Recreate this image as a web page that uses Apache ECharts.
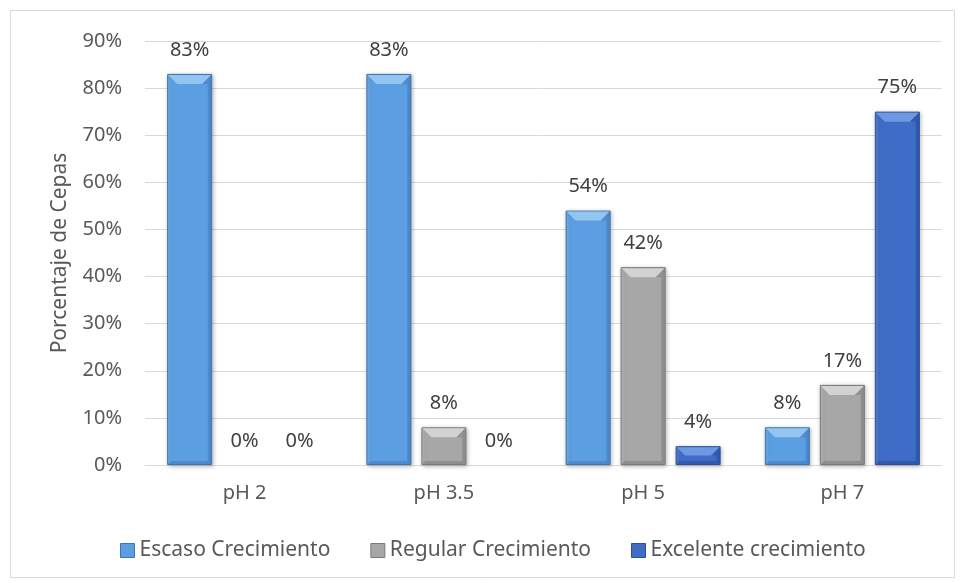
<!DOCTYPE html>
<html>
<head>
<meta charset="utf-8">
<script src="https://cdn.jsdelivr.net/npm/echarts@6/dist/echarts.min.js"></script>
<style>html,body{margin:0;padding:0;background:#fff}#c{width:960px;height:583px}</style>
</head>
<body>
<div id="c"></div>
<script>
const categories = ['pH 2', 'pH 3.5', 'pH 5', 'pH 7'];
const escaso = [83, 83, 54, 8];
const regular = [0, 8, 42, 17];
const excelente = [0, 0, 4, 75];
const yTicks = [0, 10, 20, 30, 40, 50, 60, 70, 80, 90];
const seriesNames = ['Escaso Crecimiento', 'Regular Crecimiento', 'Excelente crecimiento'];

const FONT = 'Noto Sans';
const BAR_W = 45;
const BAR_OFFSETS = [-55, 0, 55];
function grad(light, mid, dark) {
  return new echarts.graphic.LinearGradient(0, 0, 1, 0, [
    {offset: 0, color: light}, {offset: 0.1, color: mid}, {offset: 0.88, color: mid}, {offset: 1, color: dark}
  ]);
}
const styles = [
  {color: grad('#78b2ea', '#5b9fe2', '#4482c4'), border: '#3f74ad', legend: '#5b9fe2', hi: '#93c5f2', side: '#4b86c7'},
  {color: grad('#bdbdbd', '#a7a7a7', '#8c8c8c'), border: '#7a7a7a', legend: '#a7a7a7', hi: '#d2d2d2', side: '#8a8a8a'},
  {color: grad('#5a86d6', '#3f6cc6', '#3059ab'), border: '#2b4f98', legend: '#3f6cc6', hi: '#6f98e2', side: '#2f56a6'}
];
const dataSets = [escaso, regular, excelente];

const barSeries = dataSets.map((d, i) => ({
  name: seriesNames[i], type: 'bar',
  data: d.map(v => v === 0
    ? {value: v, itemStyle: {color: 'transparent', borderColor: 'transparent', borderWidth: 0, shadowBlur: 0, shadowColor: 'transparent'}}
    : v),
  barWidth: BAR_W, barGap: '22.2%',
  itemStyle: {color: styles[i].color, borderColor: styles[i].border, borderWidth: 1,
    shadowColor: 'rgba(0,0,0,0.28)', shadowBlur: 4, shadowOffsetX: 1, shadowOffsetY: 1},
  label: {show: true, position: 'top', distance: 14, formatter: p => p.value + '%',
    fontFamily: FONT, fontSize: 20, color: '#404040'}
}));

const bevelSeries = dataSets.map((d, i) => ({
  name: seriesNames[i], type: 'custom', silent: true, z: 5,
  data: d.map((v, k) => [k, v]),
  renderItem: function (params, api) {
    const v = api.value(1);
    if (!(v > 0)) return null;
    const top = api.coord([api.value(0), v]);
    const base = api.coord([api.value(0), 0]);
    const cx = top[0] + BAR_OFFSETS[i];
    const x0 = cx - BAR_W / 2 + 1, x1 = cx + BAR_W / 2 - 1;
    const y0 = top[1] + 1, y1 = base[1] - 1;
    const h = y1 - y0;
    const b = Math.min(9, h / 2);
    const s = Math.min(3, h / 4);
    return {
      type: 'group',
      children: [
        {type: 'polygon', shape: {points: [[x0, y0], [x1, y0], [x1 - b, y0 + b], [x0 + b, y0 + b]]},
          style: {fill: styles[i].hi}},
        {type: 'polygon', shape: {points: [[x1, y0], [x1, y1], [x1 - s, y1 - s], [x1 - s, y0 + b], [x1 - b, y0 + b]]},
          style: {fill: styles[i].side, opacity: 0.7}},
        {type: 'polygon', shape: {points: [[x0, y1], [x1, y1], [x1 - s, y1 - s], [x0 + s, y1 - s]]},
          style: {fill: styles[i].side, opacity: 0.8}}
      ]
    };
  }
}));

const chart = echarts.init(document.getElementById('c'), null, {renderer: 'canvas'});
chart.setOption({
  animation: false,
  backgroundColor: '#fff',
  textStyle: {fontFamily: FONT},
  graphic: [{type: 'rect', shape: {x: 10.5, y: 10.5, width: 944, height: 567}, style: {fill: 'none', stroke: '#d9d9d9', lineWidth: 1}, z: -1}],
  grid: {left: 145, right: 18, top: 41, bottom: 118},
  legend: {
    top: 535, left: 115,
    itemWidth: 14, itemHeight: 14, itemGap: 40,
    icon: 'rect',
    textStyle: {fontFamily: FONT, fontSize: 21, color: '#595959'},
    data: seriesNames.map((n, i) => ({name: n, itemStyle: {color: styles[i].legend, borderColor: styles[i].border, borderWidth: 1}}))
  },
  xAxis: {
    type: 'category', data: categories,
    axisLine: {lineStyle: {color: '#d9d9d9', width: 1}},
    axisTick: {show: false},
    axisLabel: {fontFamily: FONT, fontSize: 20, color: '#595959', margin: 18}
  },
  yAxis: {
    type: 'value', min: 0, max: 90, interval: 10,
    name: 'Porcentaje de Cepas', nameLocation: 'middle', nameGap: 74,
    nameTextStyle: {fontFamily: FONT, fontSize: 21, color: '#595959'},
    axisLine: {show: false}, axisTick: {show: false},
    splitLine: {lineStyle: {color: '#d9d9d9', width: 1}},
    axisLabel: {fontFamily: FONT, fontSize: 20, color: '#595959', margin: 23,
      formatter: v => (yTicks.indexOf(v) >= 0 ? v + '%' : '')}
  },
  series: barSeries.concat(bevelSeries)
});
</script>
</body>
</html>
